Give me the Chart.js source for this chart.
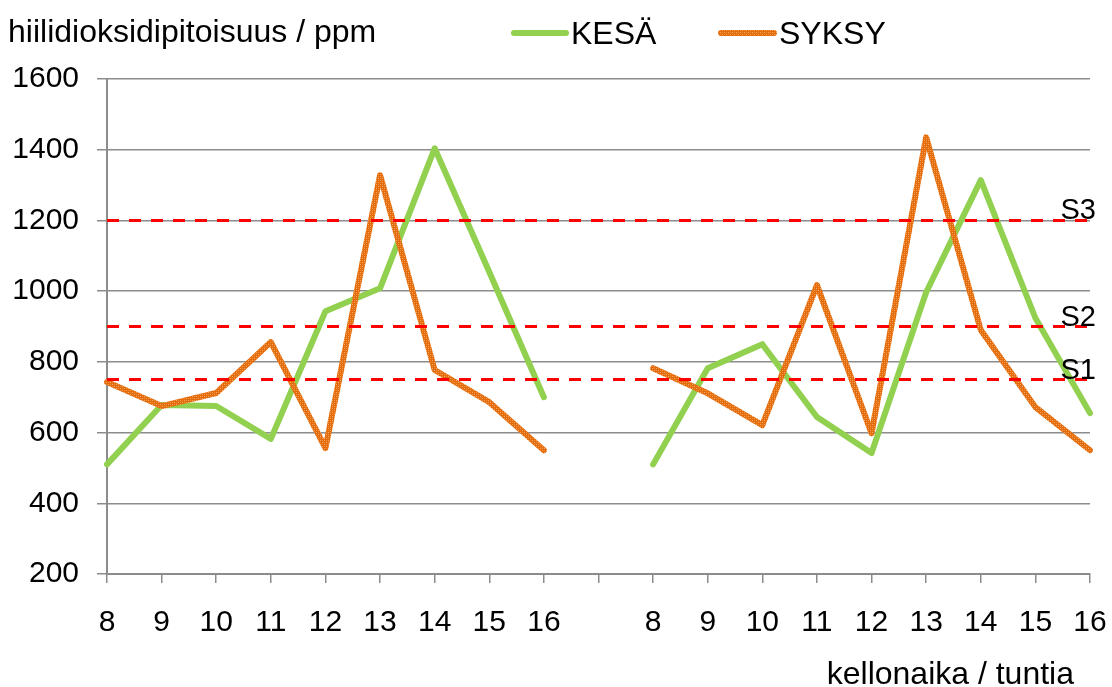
<!DOCTYPE html>
<html>
<head>
<meta charset="utf-8">
<script src="https://cdn.jsdelivr.net/npm/chart.js@4"></script>
<style>
  body { margin: 0; background: #fff; }
  #wrap { width: 1112px; height: 687px; }
</style>
</head>
<body>
<div id="wrap"><canvas id="chart"></canvas></div>
<script>
// kellonajat, kaksi mittauspäivää, välissä tyhjä sarake
var hours = ['8', '9', '10', '11', '12', '13', '14', '15', '16', '',
             '8', '9', '10', '11', '12', '13', '14', '15', '16'];
var kesa = [510, 678, 675, 582, 943, 1008, 1404, 1054, 700, null,
            510, 782, 850, 644, 542, 997, 1314, 924, 655];
var syksy = [743, 675, 712, 856, 556, 1328, 777, 686, 550, null,
             782, 711, 621, 1017, 598, 1435, 890, 672, 550];
var limits = [750, 900, 1200];
var limitNames = ['S1', 'S2', 'S3'];
var yTicks = [200, 400, 600, 800, 1000, 1200, 1400, 1600];

var FONT = '"Liberation Sans", Arial, sans-serif';
var GREEN = '#92D050';
var GRID = '#8c8c8c';

var canvas = document.getElementById('chart');
var ctx = canvas.getContext('2d');

// rakeinen oranssi viiva kuten Excelissä
var pc = document.createElement('canvas');
pc.width = 4; pc.height = 4;
var pg = pc.getContext('2d');
pg.fillStyle = '#E46C0A'; pg.fillRect(0, 0, 4, 4);
pg.fillStyle = '#F6A864'; pg.fillRect(0, 0, 1, 1); pg.fillRect(2, 2, 1, 1);
pg.fillStyle = '#F08A3C'; pg.fillRect(2, 0, 1, 1); pg.fillRect(0, 2, 1, 1);
var orange = ctx.createPattern(pc, 'repeat');

var datasets = [
  {
    label: 'KESÄ', data: kesa, borderColor: GREEN, borderWidth: 6,
    pointRadius: 0, borderJoinStyle: 'round', borderCapStyle: 'round',
    spanGaps: false, order: 2
  },
  {
    label: 'SYKSY', data: syksy, borderColor: orange, borderWidth: 6,
    pointRadius: 0, borderJoinStyle: 'round', borderCapStyle: 'round',
    spanGaps: false, order: 1
  }
];

limits.forEach(function(v, i) {
  datasets.push({
    label: limitNames[i],
    data: hours.map(function() { return v; }),
    borderColor: '#FF0000', borderWidth: 3, borderDash: [12, 10],
    pointRadius: 0, order: 0
  });
});

var extras = {
  id: 'extras',
  afterDraw: function(chart) {
    var c = chart.ctx;
    var y = chart.scales.y;
    c.save();
    c.fillStyle = '#000';
    c.textBaseline = 'alphabetic';

    c.font = '32px ' + FONT;
    c.textAlign = 'left';
    c.fillText('hiilidioksidipitoisuus / ppm', 8, 42);

    // selite
    c.lineCap = 'round';
    c.lineWidth = 6;
    c.strokeStyle = GREEN;
    c.beginPath(); c.moveTo(514, 33); c.lineTo(566, 33); c.stroke();
    c.fillText('KESÄ', 571, 44);
    c.strokeStyle = orange;
    c.beginPath(); c.moveTo(721, 33); c.lineTo(774, 33); c.stroke();
    c.fillText('SYKSY', 779, 44);

    c.textAlign = 'right';
    c.fillText('kellonaika / tuntia', 1074, 684);

    c.font = '29px ' + FONT;
    limits.forEach(function(v, i) {
      c.fillText(limitNames[i], 1096, y.getPixelForValue(v) - 1);
    });
    c.restore();
  }
};

new Chart(ctx, {
  type: 'line',
  data: { labels: hours, datasets: datasets },
  plugins: [extras],
  options: {
    responsive: true,
    maintainAspectRatio: false,
    animation: false,
    layout: { padding: { top: 79, right: 22, left: 0, bottom: 0 } },
    plugins: {
      legend: { display: false },
      tooltip: { enabled: false }
    },
    scales: {
      x: {
        type: 'category',
        offset: false,
        grid: { drawOnChartArea: false, drawTicks: true, tickLength: 9, color: GRID, lineWidth: 1.5 },
        border: { color: GRID, width: 2 },
        ticks: { color: '#000', font: { family: FONT, size: 30 }, padding: 22, maxRotation: 0, autoSkip: false },
        afterFit: function(scale) {
          scale.height = 113;
          scale.paddingLeft = 0;
          scale.paddingRight = 0;
        }
      },
      y: {
        min: 200, max: 1600,
        afterBuildTicks: function(scale) {
          scale.ticks = yTicks.map(function(v) { return { value: v }; });
        },
        grid: { color: GRID, lineWidth: 1.5, tickLength: 10 },
        border: { color: GRID, width: 2 },
        ticks: {
          color: '#000', font: { family: FONT, size: 30 }, padding: 18,
          callback: function(v) { return String(v); }
        },
        afterFit: function(scale) {
          scale.width = 107;
          scale.paddingTop = 0;
          scale.paddingBottom = 0;
        }
      }
    }
  }
});
</script>
</body>
</html>
